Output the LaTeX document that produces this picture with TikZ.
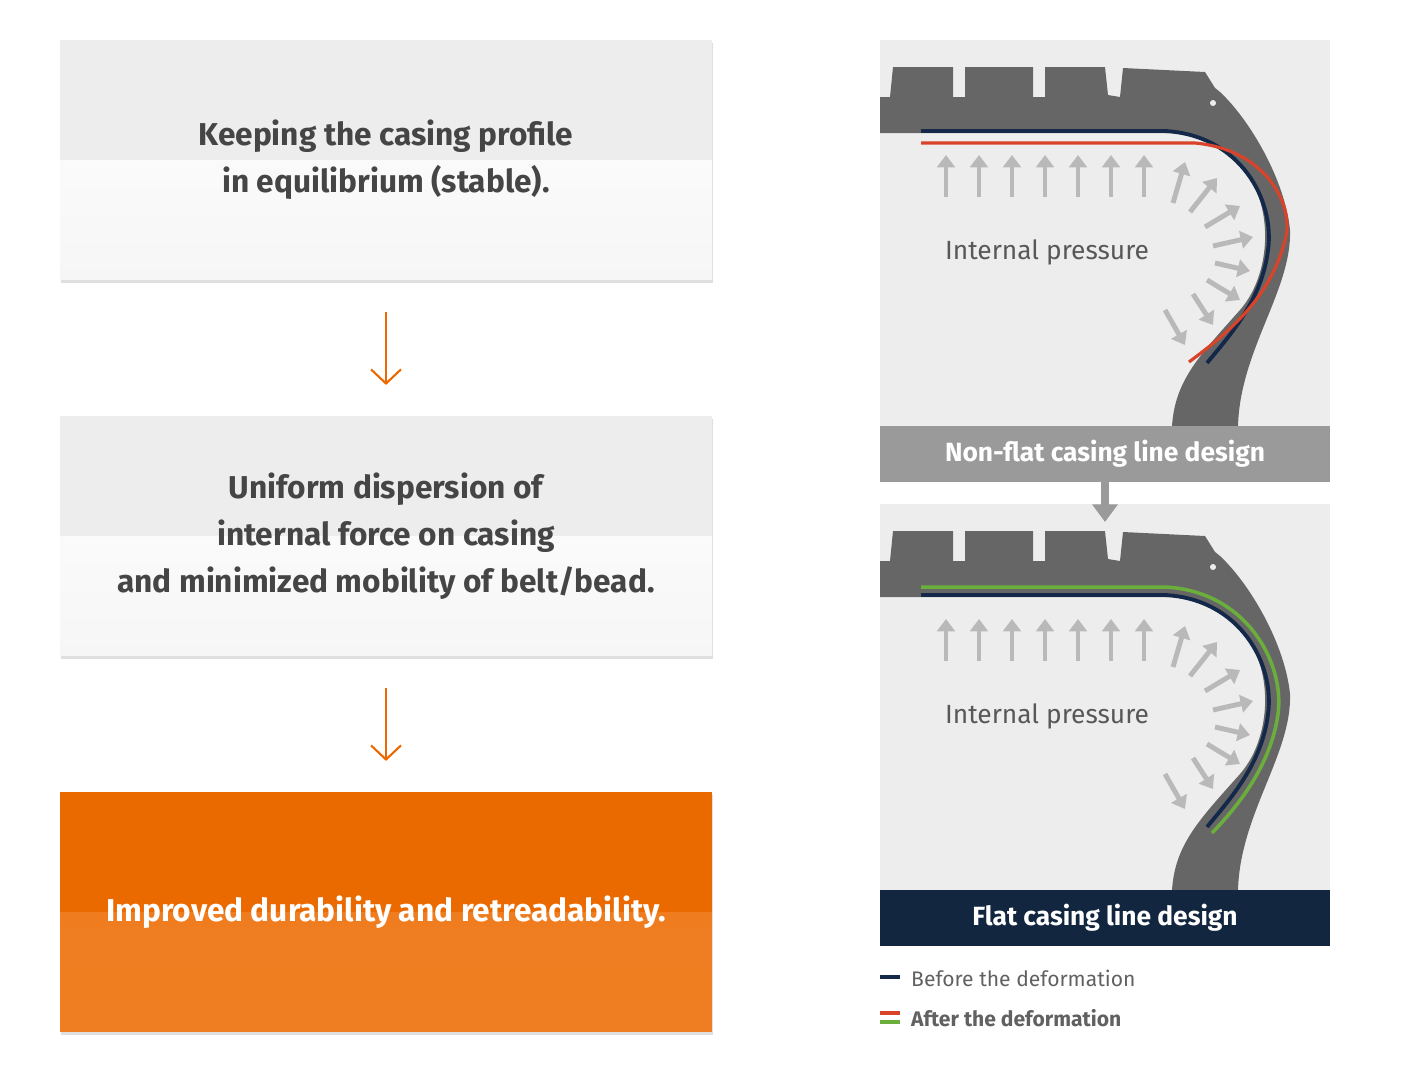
\documentclass[tikz,border=0pt]{standalone}
\usepackage{fontspec}
\setmainfont{Fira Sans}
\usepackage{tikz}
\usetikzlibrary{calc, arrows.meta, shadows}

\definecolor{boxtext}{HTML}{454545}
\definecolor{orangeA}{HTML}{EA6A00}
\definecolor{orangeB}{HTML}{EF7E22}
\definecolor{panelbg}{HTML}{EDEDED}
\definecolor{tiregray}{HTML}{666666}
\definecolor{bargray}{HTML}{9A9A9A}
\definecolor{navyline}{HTML}{14284A}
\definecolor{redline}{HTML}{D8432A}
\definecolor{greenline}{HTML}{6AAF3C}
\definecolor{darkbar}{HTML}{12263F}

\tikzset{
    stepbox/.style={minimum width=13.04cm, minimum height=4.8cm, align=center,
        font=\fontsize{18}{26.6}\selectfont\bfseries, text=boxtext, fill=panelbg,
        drop shadow={opacity=0.25, shadow xshift=0.5pt, shadow yshift=-1.5pt},
        path picture={\fill[top color=white, bottom color=gray!7]
            (path picture bounding box.west) rectangle (path picture bounding box.south east);}},
    resultbox/.style={stepbox, text=white, fill=orangeA,
        path picture={\fill[top color=orangeB!90!orangeA, bottom color=orangeB]
            (path picture bounding box.west) rectangle (path picture bounding box.south east);}},
    flow/.style={orangeA, line width=1.2pt, -{Straight Barb[length=8pt, width=17pt]},
        shorten <=18pt, shorten >=17.5pt},
    bar/.style={minimum width=9cm, minimum height=1.12cm, text=white,
        font=\fontsize{15}{18}\selectfont\bfseries},
    press/.style={gray!55, line width=2.8pt, -{Triangle[width=10pt, length=7pt]}},
    presslabel/.style={font=\fontsize{15}{18}\selectfont, text=boxtext!90},
    legend/.style={anchor=west, font=\fontsize{12}{14}\selectfont, text=boxtext!85},
}

\newcommand{\tirebody}{%
    \fill[tiregray] (880,97) -- (890,97) -- (893,67) -- (953,67) -- (953,97) -- (965,97)
        -- (965,67) -- (1033,67) -- (1033,97) -- (1045,97) -- (1045,67) -- (1105,67)
        -- (1108,95) -- (1120,97) -- (1123,68) -- (1205,72) -- (1215,88) -- (1220,92)
        .. controls (1250,120) and (1285,180) .. (1290,230)
        .. controls (1292,290) and (1240,350) .. (1238,426) -- (1172,426)
        .. controls (1175,380) and (1200,355) .. (1240,310)
        .. controls (1275,270) and (1275,190) .. (1230,155)
        .. controls (1210,140) and (1195,133) .. (1170,133) -- (880,133) -- cycle;
    \fill[panelbg] (1213,103) circle (3);
    \foreach \x in {946,979,...,1144}
        \draw[press] (\x,197) -- (\x,155);
    \foreach \a/\b/\c/\d in {1173/203/1185/162, 1190/212/1217/178, 1205/227/1240/206,
        1213/246/1253/237, 1215/263/1250/271, 1207/280/1240/300, 1193/294/1213/325,
        1165/310/1185/345}
        \draw[press] (\a,\b) -- (\c,\d);
    \node[presslabel] at (1047,252) {Internal pressure};
    \draw[navyline, line width=2.2pt] (921,131) -- (1165,131)
        .. controls (1240,135) and (1275,200) .. (1268,250)
        .. controls (1262,300) and (1230,335) .. (1207,363);
}

\begin{document}
\begin{tikzpicture}[x=0.02cm, y=-0.02cm]
    \useasboundingbox[fill=white] (0,0) rectangle (1416,1072);

    % left column
    \node[stepbox] (keep) at (386,160) {Keeping the casing profile\\in equilibrium (stable).};
    \node[stepbox] (unif) at (386,536) {Uniform dispersion of\\internal force on casing\\and minimized mobility of belt/bead.};
    \node[resultbox] (impr) at (386,912) {Improved durability and retreadability.};
    \draw[flow] (keep.south) -- (unif.north);
    \draw[flow] (unif.south) -- (impr.north);

    % non-flat panel
    \begin{scope}
        \clip (880,40) rectangle (1330,426);
        \fill[panelbg] (880,40) rectangle (1330,426);
        \tirebody
        \draw[redline, line width=1.8pt] (921,143) -- (1195,143)
            .. controls (1270,150) and (1295,210) .. (1285,240)
            .. controls (1270,300) and (1225,335) .. (1189,362);
    \end{scope}
    \node[bar, fill=bargray] (nonflat) at (1105,454) {Non-flat casing line design};

    % flat panel
    \begin{scope}[shift={(0,464)}]
        \clip (880,40) rectangle (1330,426);
        \fill[panelbg] (880,40) rectangle (1330,426);
        \tirebody
        \draw[greenline, line width=2pt] (921,123) -- (1165,123)
            .. controls (1247,127) and (1285,200) .. (1278,250)
            .. controls (1271,300) and (1240,340) .. (1212,369);
    \end{scope}
    \node[bar, fill=darkbar] (flat) at (1105,918) {Flat casing line design};
    \coordinate (tip) at (1105,522);
    \draw[bargray, line width=4.5pt, -{Triangle[width=14pt, length=10pt]}] (nonflat.south) -- (tip);

    % legend
    \draw[navyline, line width=1.8pt] (880,977) -- (900,977);
    \node[legend] (before) at (905,978) {Before the deformation};
    \draw[redline, line width=1.8pt] (880,1013) -- (900,1013);
    \draw[greenline, line width=1.8pt] (880,1022) -- (900,1022);
    \node[legend, font=\fontsize{12}{14}\selectfont\bfseries] (after) at (905,1018) {After the deformation};
\end{tikzpicture}
\end{document}
